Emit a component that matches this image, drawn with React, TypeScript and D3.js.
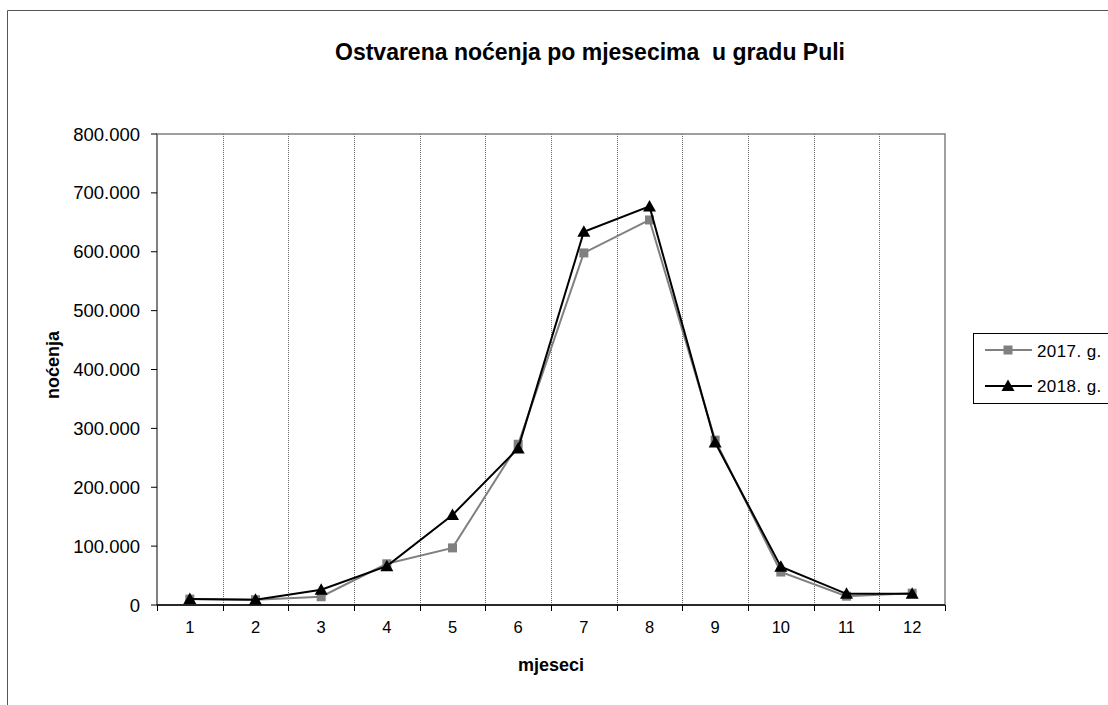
import React from "react";
import * as d3 from "d3";

const months = ["1", "2", "3", "4", "5", "6", "7", "8", "9", "10", "11", "12"];
const values2017 = [10000, 9000, 14000, 70000, 97000, 273000, 598000, 654000, 280000, 56000, 15000, 20000];
const values2018 = [10000, 9000, 26000, 66000, 153000, 266000, 634000, 677000, 276000, 65000, 19000, 19000];
const yTicks = [0, 100000, 200000, 300000, 400000, 500000, 600000, 700000, 800000];
const seriesNames = ["2017. g.", "2018. g."];

const W = 1108;
const H = 705;
const PL = 157, PR = 945, PT = 134, PB = 605;
const FONT = "Arial, 'Liberation Sans', Helvetica, sans-serif";

const fmt = (v: number) => (v === 0 ? "0" : d3.format(",")(v).replace(/,/g, "."));

function Square({ x, y }: { x: number; y: number }) {
  return <rect x={x - 4.5} y={y - 4.5} width={9} height={9} fill="#808080" />;
}
function Triangle({ x, y }: { x: number; y: number }) {
  return <path d={`M${x},${y - 6.5}L${x + 6.5},${y + 5}L${x - 6.5},${y + 5}Z`} fill="#000" />;
}

export default function App() {
  const x = d3.scaleBand<string>().domain(months).range([PL, PR]);
  const y = d3.scaleLinear().domain([0, 800000]).range([PB, PT]);
  const cx = (m: string) => (x(m) as number) + x.bandwidth() / 2;
  const line = d3
    .line<number>()
    .x((_, i) => cx(months[i]))
    .y((d) => y(d));

  return (
    <svg
      width={W}
      height={H}
      style={{ position: "absolute", left: 0, top: 0, background: "#fff" }}
      fontFamily={FONT}
    >
      <rect x={0} y={0} width={W} height={H} fill="#fff" />
      {/* outer frame */}
      <path d={`M7.5,${H + 5}V10.5H${W + 5}`} fill="none" stroke="#555" strokeWidth={1} />

      <text
        x={590}
        y={60}
        textAnchor="middle"
        fontSize={23}
        fontWeight="bold"
        style={{ whiteSpace: "pre" }}
      >
        {"Ostvarena noćenja po mjesecima  u gradu Puli"}
      </text>

      {/* plot area border */}
      <rect x={PL} y={PT} width={PR - PL} height={PB - PT} fill="none" stroke="#808080" strokeWidth={1.5} />

      {/* vertical dotted grid */}
      {months.slice(1).map((m) => (
        <line
          key={m}
          x1={Math.round(x(m) as number) + 0.5}
          x2={Math.round(x(m) as number) + 0.5}
          y1={PT}
          y2={PB}
          stroke="#666"
          strokeWidth={1}
          strokeDasharray="1,1"
        />
      ))}

      {/* y axis */}
      <line x1={PL} x2={PL} y1={PT} y2={PB} stroke="#808080" strokeWidth={2} />
      {yTicks.map((t) => (
        <g key={t}>
          <line x1={PL - 6} x2={PL} y1={y(t)} y2={y(t)} stroke="#000" strokeWidth={1} />
          <text x={140} y={y(t) + 6.5} textAnchor="end" fontSize={18.5}>
            {fmt(t)}
          </text>
        </g>
      ))}

      {/* x axis */}
      <line x1={PL} x2={PR} y1={PB} y2={PB} stroke="#000" strokeWidth={1.5} />
      {months.map((m) => (
        <line
          key={"t" + m}
          x1={Math.round(x(m) as number) + 0.5}
          x2={Math.round(x(m) as number) + 0.5}
          y1={PB}
          y2={PB + 6}
          stroke="#000"
        />
      ))}
      <line x1={PR + 0.5} x2={PR + 0.5} y1={PB} y2={PB + 6} stroke="#000" />
      {months.map((m) => (
        <text key={"l" + m} x={cx(m)} y={633} textAnchor="middle" fontSize={16.5}>
          {m}
        </text>
      ))}

      <text x={551} y={671} textAnchor="middle" fontSize={18} fontWeight="bold">
        mjeseci
      </text>
      <text
        transform={`translate(59,${365}) rotate(-90)`}
        textAnchor="middle"
        fontSize={18}
        fontWeight="bold"
      >
        noćenja
      </text>

      {/* series */}
      <path d={line(values2017) || ""} fill="none" stroke="#808080" strokeWidth={2} />
      {values2017.map((v, i) => (
        <Square key={"s" + i} x={cx(months[i])} y={y(v)} />
      ))}
      <path d={line(values2018) || ""} fill="none" stroke="#000" strokeWidth={2} />
      {values2018.map((v, i) => (
        <Triangle key={"t" + i} x={cx(months[i])} y={y(v)} />
      ))}

      {/* legend */}
      <rect x={973.5} y={333.5} width={140} height={70} fill="#fff" stroke="#000" strokeWidth={1} />
      <line x1={985} x2={1032} y1={350} y2={350} stroke="#808080" strokeWidth={2} />
      <Square x={1008} y={350} />
      <text x={1037} y={356.5} fontSize={17} letterSpacing={0.4}>
        {seriesNames[0]}
      </text>
      <line x1={985} x2={1032} y1={386} y2={386} stroke="#000" strokeWidth={2} />
      <Triangle x={1008} y={386} />
      <text x={1037} y={392} fontSize={17} letterSpacing={0.4}>
        {seriesNames[1]}
      </text>
    </svg>
  );
}
